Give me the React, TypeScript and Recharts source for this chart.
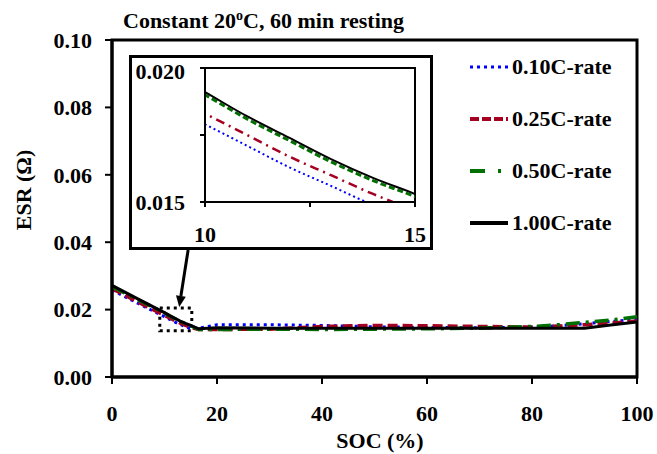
import React from "react";
import {
  LineChart, Line, XAxis, YAxis, ReferenceArea, ReferenceLine,
} from "recharts";

const FONT = "'Liberation Serif', 'Times New Roman', serif";

// SOC (%) sample points
const SOC = [0, 5, 10, 11, 12, 13, 14, 15, 16.5, 20, 30, 40, 50, 60, 70, 80, 85, 90, 95, 100];

// ESR (ohm) per C-rate
const ESR_010 = [0.0258, 0.0218, 0.0179, 0.0171, 0.0163, 0.0156, 0.0149, 0.0144, 0.0145, 0.0155, 0.0155, 0.0153, 0.0149, 0.0147, 0.0146, 0.0148, 0.0152, 0.0158, 0.0165, 0.0171];
const ESR_025 = [0.0262, 0.0222, 0.0183, 0.0175, 0.0167, 0.016, 0.0153, 0.0147, 0.0141, 0.0141, 0.0142, 0.015, 0.0153, 0.0152, 0.015, 0.0148, 0.0151, 0.0155, 0.016, 0.0166];
const ESR_050 = [0.0268, 0.0229, 0.019, 0.0181, 0.0173, 0.0165, 0.0158, 0.0152, 0.0141, 0.0141, 0.0142, 0.0141, 0.0142, 0.0143, 0.0145, 0.015, 0.0155, 0.0162, 0.0169, 0.0179];
const ESR_100 = [0.0272, 0.0231, 0.0191, 0.0182, 0.0174, 0.0166, 0.0159, 0.0153, 0.0143, 0.0146, 0.0145, 0.0145, 0.0145, 0.0145, 0.0145, 0.0145, 0.0145, 0.0145, 0.0154, 0.0163];

const X_TICKS = [0, 20, 40, 60, 80, 100];
const Y_TICKS = [0, 0.02, 0.04, 0.06, 0.08, 0.1];
const INSET_X_TICKS = [10, 12.5, 15];
const INSET_Y_TICKS = [0.015, 0.0175, 0.02];

const SERIES = [
  { key: "c010", name: "0.10C-rate", color: "#0000ff", dash: "3 4", width: 3, legendDash: "3 4", inDash: "2 3", inWidth: 2 },
  { key: "c025", name: "0.25C-rate", color: "#a50021", dash: "10 5", width: 3.5, legendDash: "9 3", inDash: "9 5 2 5", inWidth: 2.5 },
  { key: "c050", name: "0.50C-rate", color: "#007000", dash: "14 6 3 6", width: 3.5, legendDash: "15 13 3 20", inDash: "6 3", inWidth: 3 },
  { key: "c100", name: "1.00C-rate", color: "#000000", dash: undefined, width: 3, legendDash: undefined, inDash: undefined, inWidth: 2 },
];

const data = SOC.map((s, i) => ({
  soc: s,
  c010: ESR_010[i],
  c025: ESR_025[i],
  c050: ESR_050[i],
  c100: ESR_100[i],
}));

const tickStyle = { fill: "#000", fontSize: 22, fontWeight: "bold", fontFamily: FONT };

function Arrow(props: any) {
  const { x1, y1, x2, y2 } = props;
  const dx = x2 - x1, dy = y2 - y1;
  const len = Math.sqrt(dx * dx + dy * dy);
  const ux = dx / len, uy = dy / len;
  const hl = 11, hw = 5;
  const bx = x2 - ux * hl, by = y2 - uy * hl;
  return (
    <g>
      <line x1={x1} y1={y1} x2={bx} y2={by} stroke="#000" strokeWidth={3} />
      <polygon
        points={`${x2},${y2} ${bx - uy * hw},${by + ux * hw} ${bx + uy * hw},${by - ux * hw}`}
        fill="#000"
      />
    </g>
  );
}

function ChartLegend() {
  return (
    <div style={{ position: "absolute", left: 470, top: 41, width: 170 }}>
      {SERIES.map((s) => (
        <div key={s.key} style={{ display: "flex", alignItems: "center", height: 52 }}>
          <svg width={40} height={10}>
            <line x1={0} y1={5} x2={38} y2={5} stroke={s.color} strokeWidth={s.key === "c010" ? 3 : 4}
              strokeDasharray={s.legendDash} />
          </svg>
          <span style={{ fontFamily: FONT, fontWeight: "bold", fontSize: 22, color: "#000", marginLeft: 2 }}>
            {s.name}
          </span>
        </div>
      ))}
    </div>
  );
}

export default function App() {
  return (
    <div style={{ position: "absolute", left: 0, top: 0, width: 657, height: 454, background: "#fff" }}>
      <LineChart width={657} height={454} data={data} margin={{ top: 40, right: 20, bottom: 27, left: 0 }}>
        <XAxis
          dataKey="soc" type="number" domain={[0, 100]} ticks={X_TICKS}
          tick={tickStyle} tickSize={7} tickMargin={21} height={50}
          axisLine={{ stroke: "#000", strokeWidth: 3 }} tickLine={{ stroke: "#000", strokeWidth: 2 }}
        />
        <YAxis
          type="number" domain={[0, 0.1]} ticks={Y_TICKS} width={112}
          tickFormatter={(v: number) => v.toFixed(2)}
          tick={tickStyle} tickSize={7} tickMargin={13}
          axisLine={{ stroke: "#000", strokeWidth: 3 }} tickLine={{ stroke: "#000", strokeWidth: 2 }}
        />
        <ReferenceArea x1={0} x2={100} y1={0} y2={0.1} fill="none" stroke="#000" strokeWidth={3} />
        {SERIES.map((s) => (
          <Line key={s.key} dataKey={s.key} name={s.name} type="linear" stroke={s.color}
            strokeWidth={s.width} strokeDasharray={s.dash} dot={false} isAnimationActive={false} />
        ))}
        <ReferenceArea x1={9.1} x2={15.2} y1={0.0137} y2={0.0205} fill="none" stroke="#000"
          strokeWidth={3} strokeDasharray="3 4" />
        <ReferenceLine segment={[{ x: 14.5, y: 0.0377 }, { x: 12.8, y: 0.0208 }]} shape={Arrow} />
      </LineChart>

      <ChartLegend />

      <div style={{
        position: "absolute", left: 129, top: 55, width: 298, height: 189,
        border: "3px solid #000", background: "#fff",
      }}>
        <LineChart width={298} height={189} data={data} margin={{ top: 10, right: 15, bottom: 0, left: 0 }}>
          <XAxis
            dataKey="soc" type="number" domain={[10, 15]} ticks={INSET_X_TICKS} allowDataOverflow
            tickFormatter={(v: number) => (v === 12.5 ? "" : String(v))}
            tick={tickStyle} tickSize={5} tickMargin={19} height={45}
            axisLine={{ stroke: "#000", strokeWidth: 2 }} tickLine={{ stroke: "#000", strokeWidth: 2 }}
          />
          <YAxis
            type="number" domain={[0.015, 0.02]} ticks={INSET_Y_TICKS} allowDataOverflow width={73}
            tickFormatter={(v: number) => (v === 0.0175 ? "" : v.toFixed(3))}
            tick={tickStyle} tickSize={5} tickMargin={15}
            axisLine={{ stroke: "#000", strokeWidth: 2 }} tickLine={{ stroke: "#000", strokeWidth: 2 }}
          />
          <ReferenceArea x1={10} x2={15} y1={0.015} y2={0.02} fill="none" stroke="#000" strokeWidth={2} />
          {SERIES.map((s) => (
            <Line key={s.key} dataKey={s.key} name={s.name} type="monotone" stroke={s.color}
              strokeWidth={s.inWidth} strokeDasharray={s.inDash} dot={false} isAnimationActive={false} />
          ))}
        </LineChart>
      </div>

      <svg width={657} height={454} style={{ position: "absolute", left: 0, top: 0, pointerEvents: "none" }}>
        <text x={123} y={28} fontFamily={FONT} fontWeight="bold" fontSize={22}>
          Constant 20<tspan fontSize={14} dy={-8}>o</tspan><tspan dy={8}>C, 60 min resting</tspan>
        </text>
        <text x={380} y={448} textAnchor="middle" fontFamily={FONT} fontWeight="bold" fontSize={22}>
          SOC (%)
        </text>
        <text transform="translate(31,190) rotate(-90)" textAnchor="middle" fontFamily={FONT}
          fontWeight="bold" fontSize={22}>
          ESR (Ω)
        </text>
      </svg>
    </div>
  );
}
